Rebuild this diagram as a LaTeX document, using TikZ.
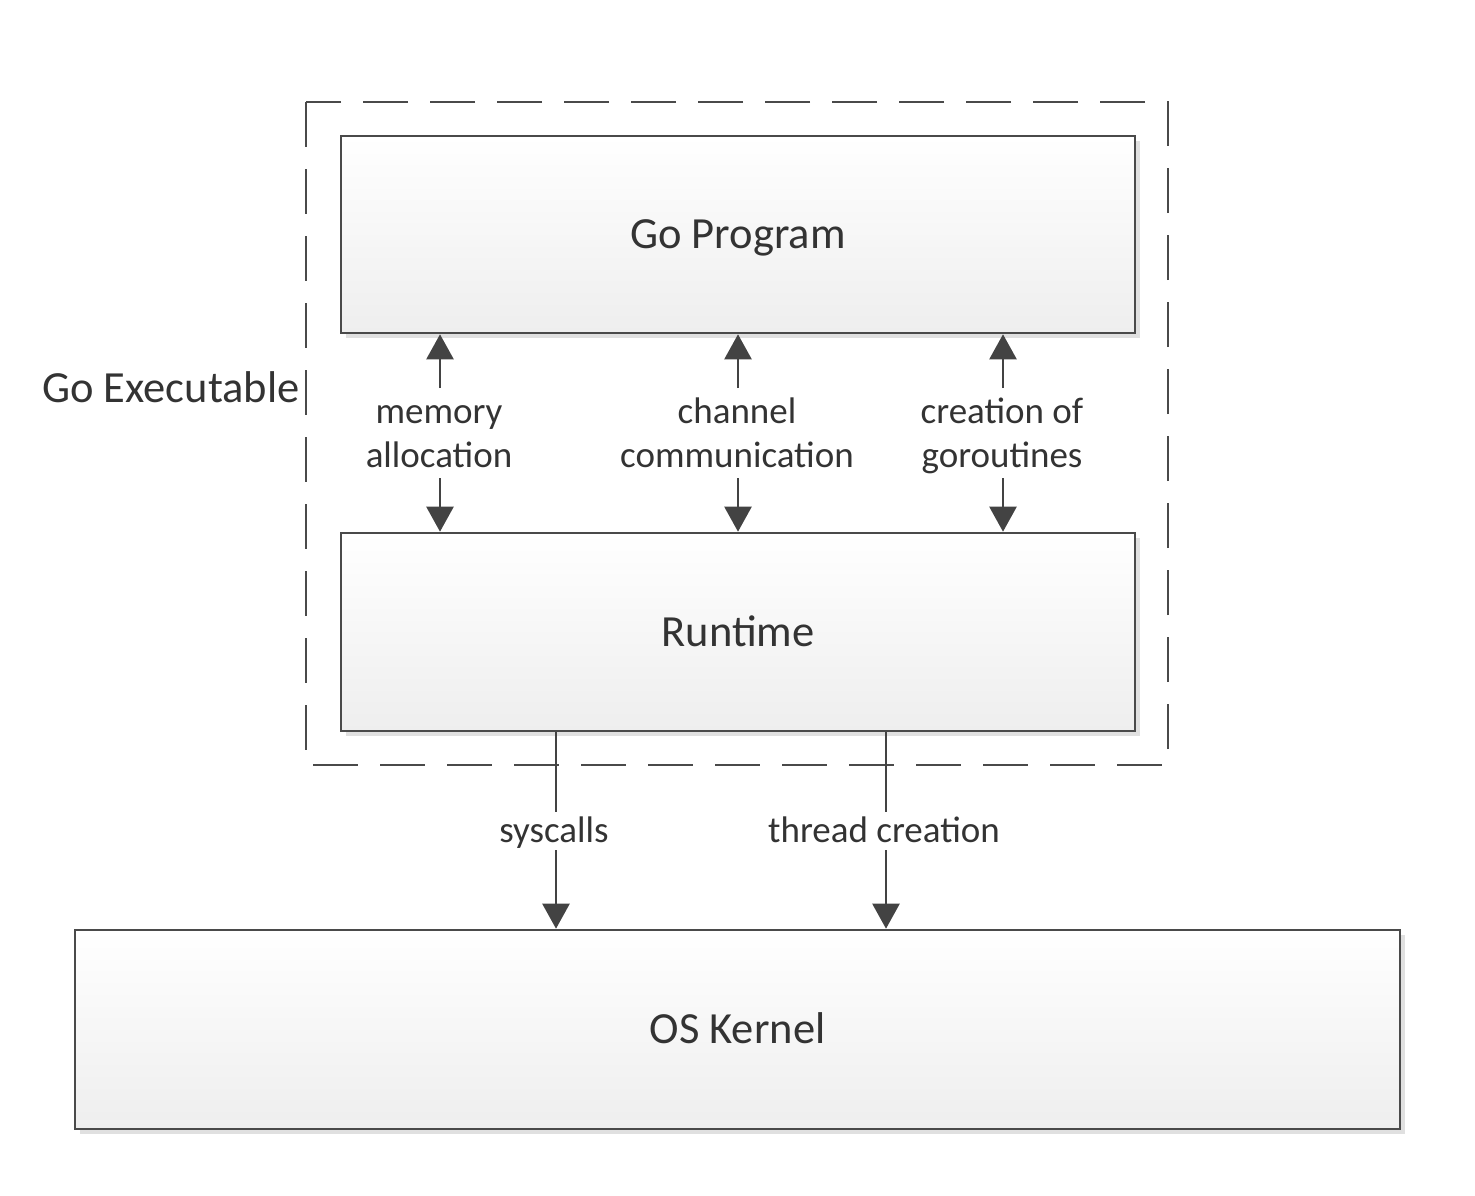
\documentclass[tikz,border=0pt]{standalone}
\usepackage{fontspec}
\setmainfont{Carlito}
\usetikzlibrary{arrows.meta,shadows,calc}
\definecolor{edge}{HTML}{4A4A4A}
\definecolor{txt}{HTML}{333333}
\definecolor{boxbot}{HTML}{EEEEEE}
\tikzset{
  block/.style={draw=edge, line width=2.6pt, rectangle, top color=white, bottom color=boxbot,
    text=txt, font=\fontsize{44.5}{53}\selectfont, inner sep=0pt, text height=28.7pt, text depth=0pt,
    drop shadow={shadow xshift=5pt, shadow yshift=-5pt, fill=black!12, opacity=1}},
  lbl/.style={text=txt, font=\fontsize{37}{44}\selectfont, align=center, inner sep=0pt},
  conn/.style={draw=edge!90!black, line width=2.4pt},
  arr/.style={conn, -{Triangle[width=27pt,length=25pt]}},
  frame/.style={draw=edge, line width=2.6pt, dash pattern=on 45pt off 22pt}
}
\begin{document}
\begin{tikzpicture}[x=1pt,y=-1pt]
\useasboundingbox (0,0) rectangle (1475,1196);
% dashed frame
\draw[frame] (306,102) rectangle (1168,765);
\node[text=txt, font=\fontsize{44.5}{53}\selectfont, inner sep=0pt, text height=28.7pt, text depth=0pt] (exe) at (171,388) {Go Executable};
% boxes
\node[block, minimum width=794pt, minimum height=197pt] (gp) at (738,234.5) {Go Program};
\node[block, minimum width=794pt, minimum height=198pt] (rt) at (738,632) {Runtime};
\node[block, minimum width=1325pt, minimum height=199pt] (os) at (737.5,1029.5) {OS Kernel};
% labels between program and runtime
\node[lbl, minimum height=90pt] (mem) at (439,437) {\strut memory\\\strut allocation};
\node[lbl, minimum height=90pt] (chan) at (737,437) {\strut channel\\\strut communication};
\node[lbl, minimum height=90pt] (gor) at (1002,437) {\strut creation of\\\strut goroutines};
\foreach \n/\xx in {mem/440, chan/738, gor/1003}{
  \draw[arr] (\xx,388) -- (gp.south -| \xx,0);
  \draw[arr] (\xx,478) -- (rt.north -| \xx,0);
}
% syscalls / thread creation
\node[lbl, minimum height=38pt] (sys) at (554,834) {\strut syscalls};
\node[lbl, minimum height=38pt] (thr) at (884,834) {\strut thread creation};
\draw[conn] (rt.south -| 556,0) -- (556,812);
\draw[arr] (556,850) -- (os.north -| 556,0);
\draw[conn] (rt.south -| 886,0) -- (886,812);
\draw[arr] (886,850) -- (os.north -| 886,0);
\end{tikzpicture}
\end{document}
